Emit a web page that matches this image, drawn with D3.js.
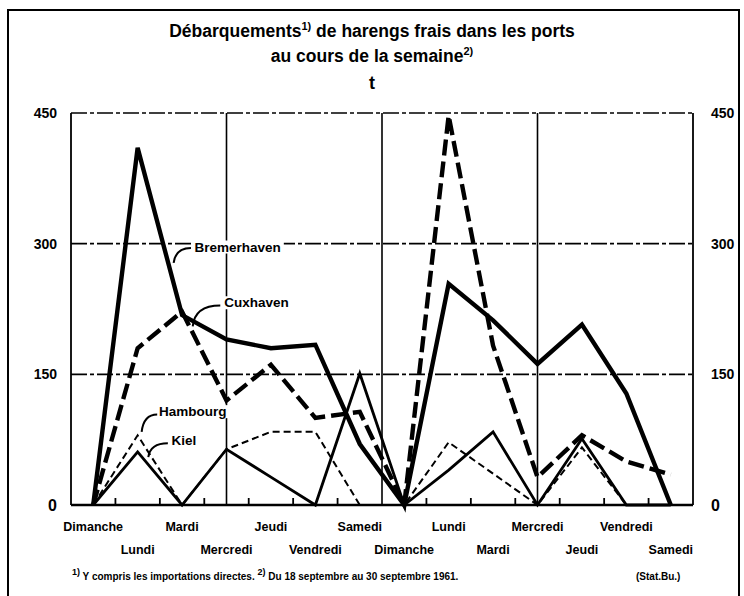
<!DOCTYPE html>
<html>
<head>
<meta charset="utf-8">
<script src="https://cdn.jsdelivr.net/npm/d3@7"></script>
<style>
    body { margin: 0; background: #fff; }
    svg text { font-family: "Liberation Sans", Arial, sans-serif; font-weight: bold; fill: #000; }
</style>
</head>
<body>
<div id="chart"></div>
<script>
// --- data (t) ---
const days = ["Dimanche", "Lundi", "Mardi", "Mercredi", "Jeudi", "Vendredi", "Samedi",
              "Dimanche", "Lundi", "Mardi", "Mercredi", "Jeudi", "Vendredi", "Samedi"];
const bremerhaven = [0, 410, 218, 190, 180, 184, 70, 0, 254, 212, 162, 207, 128, 0];
const cuxhaven    = [0, 180, 222, 120, 161, 100, 107, 0, 447, 183, 32, 80, 50, 35];
const hambourg    = [0, 80, 0, 64, 84, 84, 0, 0, 72, 36, 0, 66, 0, 0];
const kiel        = [0, 61, 0, 64, 32, 0, 151, 0, 40, 84, 0, 76, 0, 0];
const yTicks = [0, 150, 300, 450];

const width = 744;
const height = 596;
const plot = { left: 71, right: 693, top: 113, bottom: 505 };

const svg = d3.select("#chart").append("svg")
    .attr("width", width)
    .attr("height", height);

// outer frame of the scanned page
svg.append("path")
    .attr("d", `M8,600 V10 H739 V600`)
    .attr("fill", "none")
    .attr("stroke", "#000")
    .attr("stroke-width", 2);

const x = d3.scalePoint().domain(d3.range(days.length)).range([plot.left, plot.right]).padding(0.5);
const y = d3.scaleLinear().domain([0, 450]).range([plot.bottom, plot.top]);
const step = x.step();
const px = i => x(0) + i * step;

// title
const title = svg.append("text").attr("x", 372).attr("y", 37).attr("text-anchor", "middle").attr("font-size", "17.5px");
title.append("tspan").text("Débarquements");
title.append("tspan").attr("font-size", "11px").attr("dy", -7).text("1)");
title.append("tspan").attr("dy", 7).text(" de harengs frais dans les ports");

const title2 = svg.append("text").attr("x", 372).attr("y", 62).attr("text-anchor", "middle").attr("font-size", "17.5px");
title2.append("tspan").text("au cours de la semaine");
title2.append("tspan").attr("font-size", "11px").attr("dy", -7).text("2)");

svg.append("text").attr("x", 372).attr("y", 89).attr("text-anchor", "middle").attr("font-size", "18px").text("t");

// horizontal grid (dash-dot), incl. top edge
svg.append("g").selectAll("line").data(yTicks.filter(d => d > 0)).enter().append("line")
    .attr("x1", plot.left).attr("x2", plot.right)
    .attr("y1", d => y(d)).attr("y2", d => y(d))
    .attr("stroke", "#000").attr("stroke-width", 1.6)
    .attr("stroke-dasharray", "16,3,4,3");

// vertical grid: Mercredi, week break, Mercredi
const vGrid = [3, 6.5, 10];
svg.append("g").selectAll("line").data(vGrid).enter().append("line")
    .attr("x1", d => px(d)).attr("x2", d => px(d))
    .attr("y1", plot.top).attr("y2", plot.bottom)
    .attr("stroke", "#000").attr("stroke-width", 1.6);

// plot frame sides and base
svg.append("line").attr("x1", plot.left).attr("x2", plot.left).attr("y1", plot.top).attr("y2", plot.bottom)
    .attr("stroke", "#000").attr("stroke-width", 1.8);
svg.append("line").attr("x1", plot.right).attr("x2", plot.right).attr("y1", plot.top).attr("y2", plot.bottom)
    .attr("stroke", "#000").attr("stroke-width", 1.8);
svg.append("line").attr("x1", plot.left).attr("x2", plot.right).attr("y1", plot.bottom).attr("y2", plot.bottom)
    .attr("stroke", "#000").attr("stroke-width", 2.5);

// small ticks between days
const midTicks = d3.range(0.5, days.length - 1, 1).filter(d => d !== 6.5);
svg.append("g").selectAll("line").data(midTicks).enter().append("line")
    .attr("x1", d => px(d)).attr("x2", d => px(d))
    .attr("y1", plot.bottom).attr("y2", plot.bottom - 7)
    .attr("stroke", "#000").attr("stroke-width", 1.8);

// y axes
const leftAxis = svg.append("g").attr("transform", `translate(${plot.left - 14},0)`)
    .call(d3.axisLeft(y).tickValues(yTicks).tickSize(0).tickPadding(0));
const rightAxis = svg.append("g").attr("transform", `translate(${plot.right + 18},0)`)
    .call(d3.axisRight(y).tickValues(yTicks).tickSize(0).tickPadding(0));
[leftAxis, rightAxis].forEach(a => {
    a.select(".domain").remove();
    a.selectAll("text").attr("font-size", "14px").attr("font-family", "Liberation Sans Narrow, Liberation Sans, sans-serif");
    a.selectAll(".tick").filter(d => d === 0).select("text").attr("font-size", "16px").attr("font-weight", "normal");
});

// day labels, alternating two rows
svg.append("g").selectAll("text").data(days).enter().append("text")
    .attr("x", (d, i) => x(i))
    .attr("y", (d, i) => i % 2 === 0 ? 531 : 554)
    .attr("text-anchor", "middle")
    .attr("font-size", "12.5px")
    .text(d => d);

// series
const series = [
    { name: "Bremerhaven", values: bremerhaven, width: 4.4, dash: null },
    { name: "Cuxhaven", values: cuxhaven, width: 4.4, dash: "16,6" },
    { name: "Hambourg", values: hambourg, width: 2, dash: "7,4" },
    { name: "Kiel", values: kiel, width: 2.8, dash: null }
];

const line = d3.line().x((d, i) => x(i)).y(d => y(d));

svg.append("g").selectAll("path").data(series).enter().append("path")
    .attr("d", d => line(d.values))
    .attr("fill", "none")
    .attr("stroke", "#000")
    .attr("stroke-width", d => d.width)
    .attr("stroke-linejoin", "miter")
    .attr("stroke-dasharray", d => d.dash);

// series labels with leader lines (index units, tonnes)
const labels = [
    { text: "Bremerhaven", tx: 2.28, tv: 291, from: [1.81, 278], to: [2.2, 295] },
    { text: "Cuxhaven", tx: 2.95, tv: 227, from: [2.24, 205], to: [2.86, 229] },
    { text: "Hambourg", tx: 1.48, tv: 102, from: [1.09, 84], to: [1.44, 104] },
    { text: "Kiel", tx: 1.76, tv: 69, from: [1.24, 55], to: [1.68, 71] }
];

labels.forEach(l => {
    const x1 = px(l.from[0]), y1 = y(l.from[1]);
    const x2 = px(l.to[0]), y2 = y(l.to[1]);
    const g = svg.append("g");
    const t = g.append("text")
        .attr("x", px(l.tx))
        .attr("y", y(l.tv))
        .attr("font-size", "13.5px")
        .text(l.text);
    const bb = t.node().getBBox();
    g.insert("rect", "text")
        .attr("x", bb.x - 2).attr("y", bb.y + 1)
        .attr("width", bb.width + 5).attr("height", bb.height - 2)
        .attr("fill", "#fff");
    g.append("path")
        .attr("d", `M${x1},${y1} Q${x1 + 2},${y2} ${x2},${y2}`)
        .attr("fill", "none")
        .attr("stroke", "#000")
        .attr("stroke-width", 2);
});

// footnotes
const foot = svg.append("text").attr("x", 72).attr("y", 580).attr("font-size", "10px");
foot.append("tspan").attr("font-size", "9px").attr("dy", -5).text("1)");
foot.append("tspan").attr("dy", 5).text(" Y compris les importations directes.  ");
foot.append("tspan").attr("font-size", "9px").attr("dy", -5).text("2)");
foot.append("tspan").attr("dy", 5).text(" Du 18 septembre au 30 septembre 1961.");

svg.append("text").attr("x", 636).attr("y", 580).attr("font-size", "10px").text("(Stat.Bu.)");
</script>
</body>
</html>
